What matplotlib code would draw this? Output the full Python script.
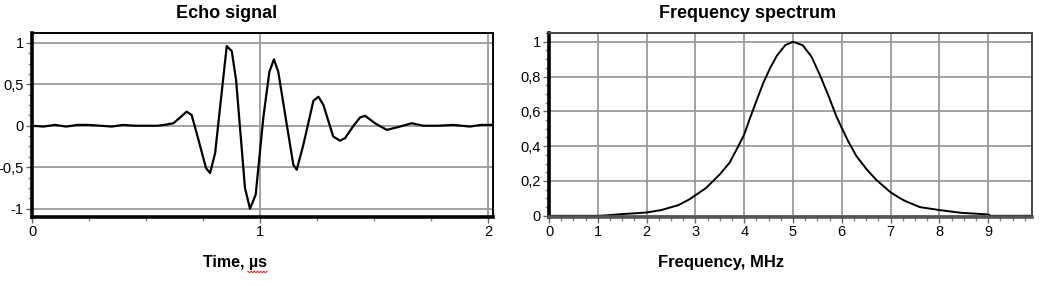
import matplotlib
matplotlib.use("Agg")
import matplotlib.pyplot as plt
import numpy as np
from matplotlib.lines import Line2D
from matplotlib.ticker import MultipleLocator, FuncFormatter

plt.rcParams['font.family'] = ['Liberation Sans', 'DejaVu Sans']

# echo signal (time in us, amplitude)
echo_t = [0, 0.05, 0.10, 0.15, 0.20, 0.25, 0.30, 0.35, 0.40, 0.45, 0.50, 0.55,
          0.58, 0.62, 0.65, 0.678, 0.70, 0.73, 0.763, 0.781, 0.803, 0.854, 0.876,
          0.895, 0.934, 0.956, 0.981, 1.015, 1.041, 1.061, 1.080, 1.114, 1.146,
          1.161, 1.19, 1.234, 1.256, 1.278, 1.321, 1.351, 1.373, 1.41, 1.439,
          1.461, 1.504, 1.556, 1.614, 1.665, 1.716, 1.78, 1.848, 1.92, 1.97, 2.02]
echo_v = [0, -0.01, 0.01, -0.01, 0.01, 0.01, 0.0, -0.01, 0.01, 0.0, 0.0, 0.0,
          0.01, 0.03, 0.10, 0.17, 0.13, -0.17, -0.51, -0.57, -0.33, 0.96, 0.90,
          0.55, -0.75, -1.0, -0.83, 0.11, 0.65, 0.80, 0.65, 0.07, -0.47,
          -0.53, -0.23, 0.30, 0.35, 0.25, -0.13, -0.18, -0.15, 0.0, 0.10,
          0.12, 0.03, -0.05, -0.01, 0.03, 0.0, 0.0, 0.01, -0.01, 0.01, 0.01]

# frequency spectrum (MHz, normalised amplitude)
spec_f = [0, 1.0, 1.15, 1.5, 1.8, 2.0, 2.3, 2.65, 2.88, 3.0, 3.22, 3.5, 3.7,
          3.88, 4.0, 4.12, 4.26, 4.39, 4.53, 4.67, 4.84, 5.0, 5.2, 5.38, 5.55,
          5.72, 5.89, 6.0, 6.13, 6.3, 6.51, 6.71, 7.0, 7.2, 7.3, 7.6, 8.0,
          8.45, 9.0, 9.05, 9.9]
spec_v = [0, 0, 0.002, 0.01, 0.015, 0.019, 0.033, 0.061, 0.095, 0.118, 0.160,
          0.238, 0.305, 0.40, 0.467, 0.562, 0.667, 0.762, 0.848, 0.92, 0.98,
          1.0, 0.98, 0.914, 0.81, 0.695, 0.571, 0.505, 0.429, 0.343, 0.267,
          0.206, 0.135, 0.10, 0.085, 0.05, 0.033, 0.017, 0.008, 0.0, 0.0]

comma = FuncFormatter(lambda v, p: ('%g' % round(v, 3)).replace('.', ','))

fig = plt.figure(figsize=(10.47, 2.92), dpi=100)
ax1 = fig.add_axes([0.0306, 0.2568, 0.4403, 0.630])
ax2 = fig.add_axes([0.5244, 0.2568, 0.4613, 0.630])

grid = '#9a9a9a'

# echo signal
ax1.plot(echo_t, echo_v, color='black', lw=1.6)
ax1.set_xlim(0, 2.022)
ax1.set_ylim(-1.10, 1.117)
ax1.set_xticks([0, 1, 2])
ax1.set_yticks([-1, -0.5, 0, 0.5, 1])
ax1.xaxis.set_minor_locator(MultipleLocator(0.25))
ax1.yaxis.set_minor_locator(MultipleLocator(0.125))
ax1.yaxis.set_major_formatter(comma)
ax1.grid(True, color=grid, lw=1.3)
for s in ['left', 'bottom']:
    ax1.spines[s].set_linewidth(2.6)
for s in ['top', 'right']:
    ax1.spines[s].set_linewidth(1.4)

# spectrum
ax2.plot(spec_f, spec_v, color='black', lw=1.4)
ax2.set_xlim(0, 9.9)
ax2.set_ylim(-0.007, 1.05)
ax2.set_xticks(range(0, 10))
ax2.set_yticks([0, 0.2, 0.4, 0.6, 0.8, 1])
ax2.xaxis.set_minor_locator(MultipleLocator(0.25))
ax2.yaxis.set_minor_locator(MultipleLocator(0.05))
ax2.yaxis.set_major_formatter(comma)
ax2.grid(True, color=grid, lw=1.3)
ax2.spines['left'].set_linewidth(2.6)
ax2.spines['bottom'].set_linewidth(2.6)
ax2.spines['bottom'].set_color('#555555')
for s in ['top', 'right']:
    ax2.spines[s].set_linewidth(1.4)
    ax2.spines[s].set_color('#444444')

for ax in (ax1, ax2):
    ax.set_axisbelow(True)
    ax.tick_params(which='major', length=4, width=1, color='#666666',
                   labelsize=10.5, pad=2)
    ax.tick_params(which='minor', length=3, width=1, color='#888888')

fig.text(227 / 1047, 1 - 14 / 292, 'Echo signal', ha='center', va='center',
         fontsize=13, fontweight='bold')
fig.text(748 / 1047, 1 - 14 / 292, 'Frequency spectrum', ha='center',
         va='center', fontsize=13, fontweight='bold')
fig.text(235 / 1047, 1 - 263 / 292, 'Time, µs', ha='center', va='center',
         fontsize=11.5, fontweight='bold')
fig.text(721 / 1047, 1 - 263 / 292, 'Frequency, MHz', ha='center',
         va='center', fontsize=12, fontweight='bold')

# spell-check squiggle under "µs"
sx = np.linspace(248, 267, 13) / 1047
sy = (292 - 272 + np.tile([0.8, -0.8], 7)[:13]) / 292
fig.add_artist(Line2D(sx, sy, color='#e03030', lw=0.8))

fig.savefig('out.png', dpi=100)
